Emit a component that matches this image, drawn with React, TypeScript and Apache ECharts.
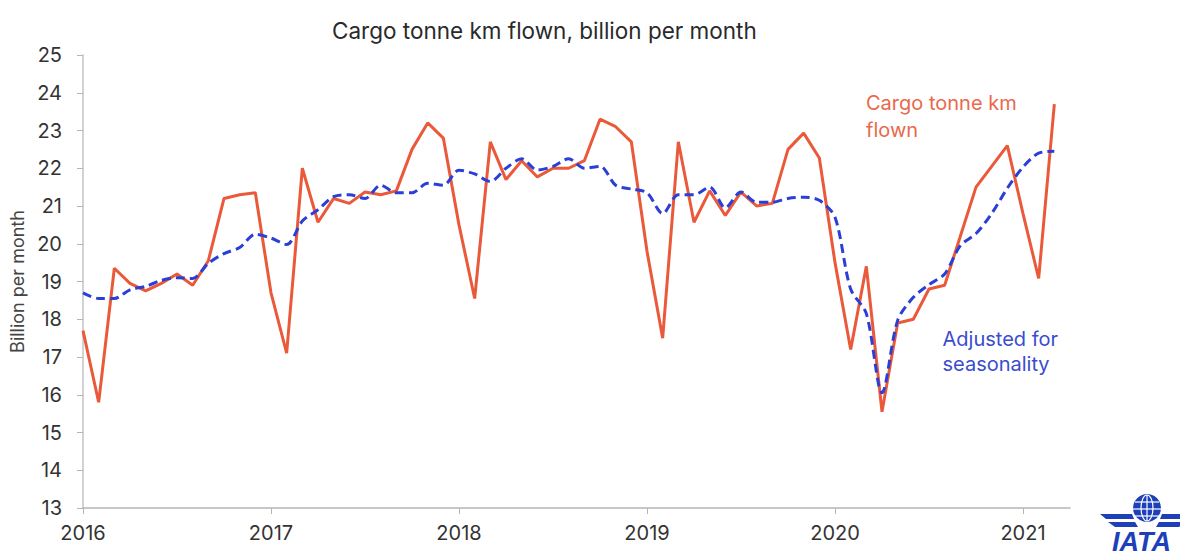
import React, { useEffect, useRef } from "react";
import * as echarts from "echarts";

const yearLabels = ["2016", "2017", "2018", "2019", "2020", "2021"];
const yearTickIndex = [0, 12, 24, 36, 48, 60];

// Monthly values, Jan 2016 .. Mar 2021
const cargoFlown = [
  17.7, 15.8, 19.35, 18.95, 18.75, 18.95, 19.2, 18.9, 19.55, 21.2, 21.3, 21.35,
  18.7, 17.1, 22.0, 20.57, 21.2, 21.07, 21.37, 21.3, 21.4, 22.5, 23.2, 22.8,
  20.5, 18.55, 22.7, 21.7, 22.2, 21.77, 22.0, 22.0, 22.2, 23.3, 23.1, 22.7,
  19.8, 17.5, 22.7, 20.57, 21.4, 20.75, 21.37, 21.0, 21.07, 22.5, 22.93, 22.27,
  19.5, 17.2, 19.4, 15.55, 17.9, 18.0, 18.8, 18.9, 20.2, 21.5, 22.05, 22.6,
  20.8, 19.08, 23.7,
];

const seasonallyAdjusted = [
  18.7, 18.55, 18.55, 18.78, 18.87, 19.03, 19.1, 19.08, 19.48, 19.74, 19.9, 20.25,
  20.15, 19.98, 20.6, 20.9, 21.25, 21.3, 21.2, 21.55, 21.35, 21.35, 21.6, 21.55,
  21.95, 21.85, 21.65, 22.0, 22.25, 21.95, 22.05, 22.25, 22.0, 22.05, 21.55, 21.45,
  21.35, 20.8, 21.3, 21.3, 21.5, 20.95, 21.37, 21.1, 21.1, 21.2, 21.23, 21.15,
  20.7, 18.8, 18.15, 16.05, 17.97, 18.58, 18.92, 19.2, 19.95, 20.27, 20.8, 21.47,
  22.03, 22.4, 22.45,
];

const titleText = "Cargo tonne km flown, billion per month";
const yAxisTitle = "Billion per month";
const cargoLabel = "Cargo tonne km\nflown";
const adjustedLabel = "Adjusted for\nseasonality";

const RED = "#EA5A3A";
const BLUE = "#2B3FD6";
const LOGO_BLUE = "#1D3FB8";

export default function App() {
  const ref = useRef<HTMLDivElement>(null);

  useEffect(() => {
    document.body.style.margin = "0";
    const chart = echarts.init(ref.current!, null, { renderer: "svg" });
    const font = "Inter, 'Open Sans', sans-serif";

    const option: any = {
      animation: false,
      backgroundColor: "#ffffff",
      textStyle: { fontFamily: font },
      title: {
        text: titleText,
        left: 327,
        top: 14,
        textStyle: { fontSize: 22.5, fontWeight: "normal", color: "#2a2a2a", fontFamily: font },
      },
      grid: {
        left: 83,
        right: 110,
        top: 55,
        bottom: 49,
        containLabel: false,
        outerBoundsMode: "none",
      },
      xAxis: {
        type: "value",
        min: 0,
        max: 63,
        interval: 12,
        axisLine: { show: true, lineStyle: { color: "#b5b5b5", width: 1.5 } },
        axisTick: {
          show: true,
          length: 6,
          customValues: yearTickIndex,
          lineStyle: { color: "#b5b5b5" },
        },
        axisLabel: {
          customValues: yearTickIndex,
          formatter: (v: number) => yearLabels[yearTickIndex.indexOf(Math.round(v))] ?? "",
          fontSize: 20,
          color: "#333",
          margin: 15,
          fontFamily: font,
        },
        splitLine: { show: false },
      },
      yAxis: {
        type: "value",
        min: 13,
        max: 25,
        interval: 1,
        name: yAxisTitle,
        nameLocation: "middle",
        nameGap: 54,
        nameTextStyle: { fontSize: 18, color: "#444", fontFamily: font },
        axisLine: { show: true, lineStyle: { color: "#c4c4c4", width: 1.5 } },
        axisTick: { show: true, length: 6, lineStyle: { color: "#b5b5b5" } },
        axisLabel: { fontSize: 20, color: "#333", margin: 21, fontFamily: font },
        splitLine: { show: false },
      },
      series: [
        {
          name: "Cargo tonne km flown",
          type: "line",
          data: cargoFlown.map((v, i) => [i, v]),
          showSymbol: false,
          symbol: "none",
          lineStyle: { color: RED, width: 3 },
          z: 2,
        },
        {
          name: "Adjusted for seasonality",
          type: "line",
          data: seasonallyAdjusted.map((v, i) => [i, v]),
          showSymbol: false,
          symbol: "none",
          smooth: 0.3,
          lineStyle: { color: BLUE, width: 3, type: [9, 5] },
          z: 3,
        },
      ],
      graphic: [
        {
          type: "text",
          left: 866,
          top: 89,
          style: {
            text: cargoLabel,
            fill: "#E8694B",
            fontSize: 20,
            lineHeight: 27,
            fontFamily: font,
          },
        },
        {
          type: "text",
          right: 1180 - 1058,
          top: 326,
          style: {
            text: adjustedLabel,
            fill: "#3A4CCF",
            fontSize: 20,
            lineHeight: 25,
            align: "right",
            fontFamily: font,
          },
        },
        // IATA logo
        {
          type: "group",
          x: 1098,
          y: 492,
          children: [
            { type: "circle", shape: { cx: 49, cy: 16, r: 14 }, style: { fill: LOGO_BLUE } },
            { type: "ellipse", shape: { cx: 49, cy: 16, rx: 6, ry: 13 }, style: { fill: "none", stroke: "#ffffff", lineWidth: 1.2 } },
            { type: "line", shape: { x1: 49, y1: 3, x2: 49, y2: 29 }, style: { stroke: "#ffffff", lineWidth: 1.2 } },
            { type: "line", shape: { x1: 37, y1: 10, x2: 61, y2: 10 }, style: { stroke: "#ffffff", lineWidth: 1.2 } },
            { type: "line", shape: { x1: 35, y1: 17, x2: 63, y2: 17 }, style: { stroke: "#ffffff", lineWidth: 1.2 } },
            { type: "line", shape: { x1: 37, y1: 24, x2: 61, y2: 24 }, style: { stroke: "#ffffff", lineWidth: 1.2 } },
            { type: "polygon", shape: { points: [[2, 22], [34, 22], [36, 27], [8, 27]] }, style: { fill: LOGO_BLUE } },
            { type: "polygon", shape: { points: [[10, 30], [37, 30], [40, 35], [17, 35]] }, style: { fill: LOGO_BLUE } },
            { type: "polygon", shape: { points: [[96, 22], [64, 22], [62, 27], [90, 27]] }, style: { fill: LOGO_BLUE } },
            { type: "polygon", shape: { points: [[88, 30], [61, 30], [58, 35], [81, 35]] }, style: { fill: LOGO_BLUE } },
            {
              type: "text",
              x: 14,
              y: 36,
              style: {
                text: "IATA",
                fill: LOGO_BLUE,
                fontSize: 27,
                lineHeight: 28,
                fontWeight: "bold",
                fontStyle: "italic",
                fontFamily: "'Liberation Sans', Arial, sans-serif",
              },
            },
          ],
        },
      ],
    };

    chart.setOption(option);
    return () => chart.dispose();
  }, []);

  return <div ref={ref} style={{ width: 1180, height: 557 }} />;
}
